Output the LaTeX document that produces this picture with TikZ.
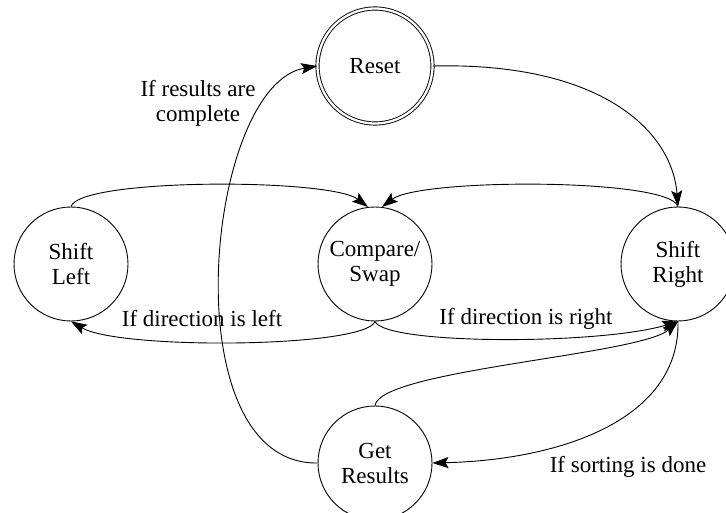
\documentclass[tikz,border=0pt]{standalone}
\usepackage{fontspec}
\setmainfont{Liberation Serif}
\usetikzlibrary{arrows.meta}
\begin{document}
\begin{tikzpicture}[x=1pt,y=-1pt,
  stnode/.style={draw,circle,line width=0.9pt,minimum size=114pt,inner sep=0pt,align=center,font=\fontsize{23}{25}\selectfont},
  lbl/.style={align=center,font=\fontsize{23}{25}\selectfont},
  edge/.style={line width=0.9pt,-{Stealth[length=16pt,width=11pt,inset=3pt]}}]
\useasboundingbox (0,0) rectangle (726,513);

\node[stnode,double,double distance=2.3pt,minimum size=115pt] (reset) at (375,66) {Reset};
\node[stnode] (sleft) at (71,264) {Shift\\Left};
\node[stnode] (cmp) at (375,264) {Compare/\\Swap};
\node[stnode] (sright) at (678,264) {Shift\\Right};
\node[stnode] (getres) at (375,463) {Get\\Results};

\node[lbl] (lres) at (198,103) {If results are\\complete};
\node[lbl] (lleft) at (202,319) {If direction is left};
\node[lbl] (lright) at (526,319) {If direction is right};
\node[lbl] (ldone) at (628,467) {If sorting is done};

\draw[edge] (reset.east) .. controls (600,62) and (672,130) .. (sright.north);
\draw[edge] (sleft.north) .. controls (80,178) and (330,178) .. (cmp.97);
\draw[edge] (sright.north) .. controls (670,178) and (420,178) .. (cmp.83);
\draw[edge] (cmp.south) .. controls (365,348) and (120,350) .. (sleft.south);
\draw[edge] (cmp.south) .. controls (385,345) and (600,345) .. (sright.south);
\draw[edge] (getres.north) .. controls (380,370) and (640,355) .. (sright.south);
\draw[edge] (sright.south) .. controls (680,420) and (560,460) .. (getres.east);
\draw[edge] (getres.west) .. controls (170,465) and (205,85) .. (reset.west);
\end{tikzpicture}
\end{document}
